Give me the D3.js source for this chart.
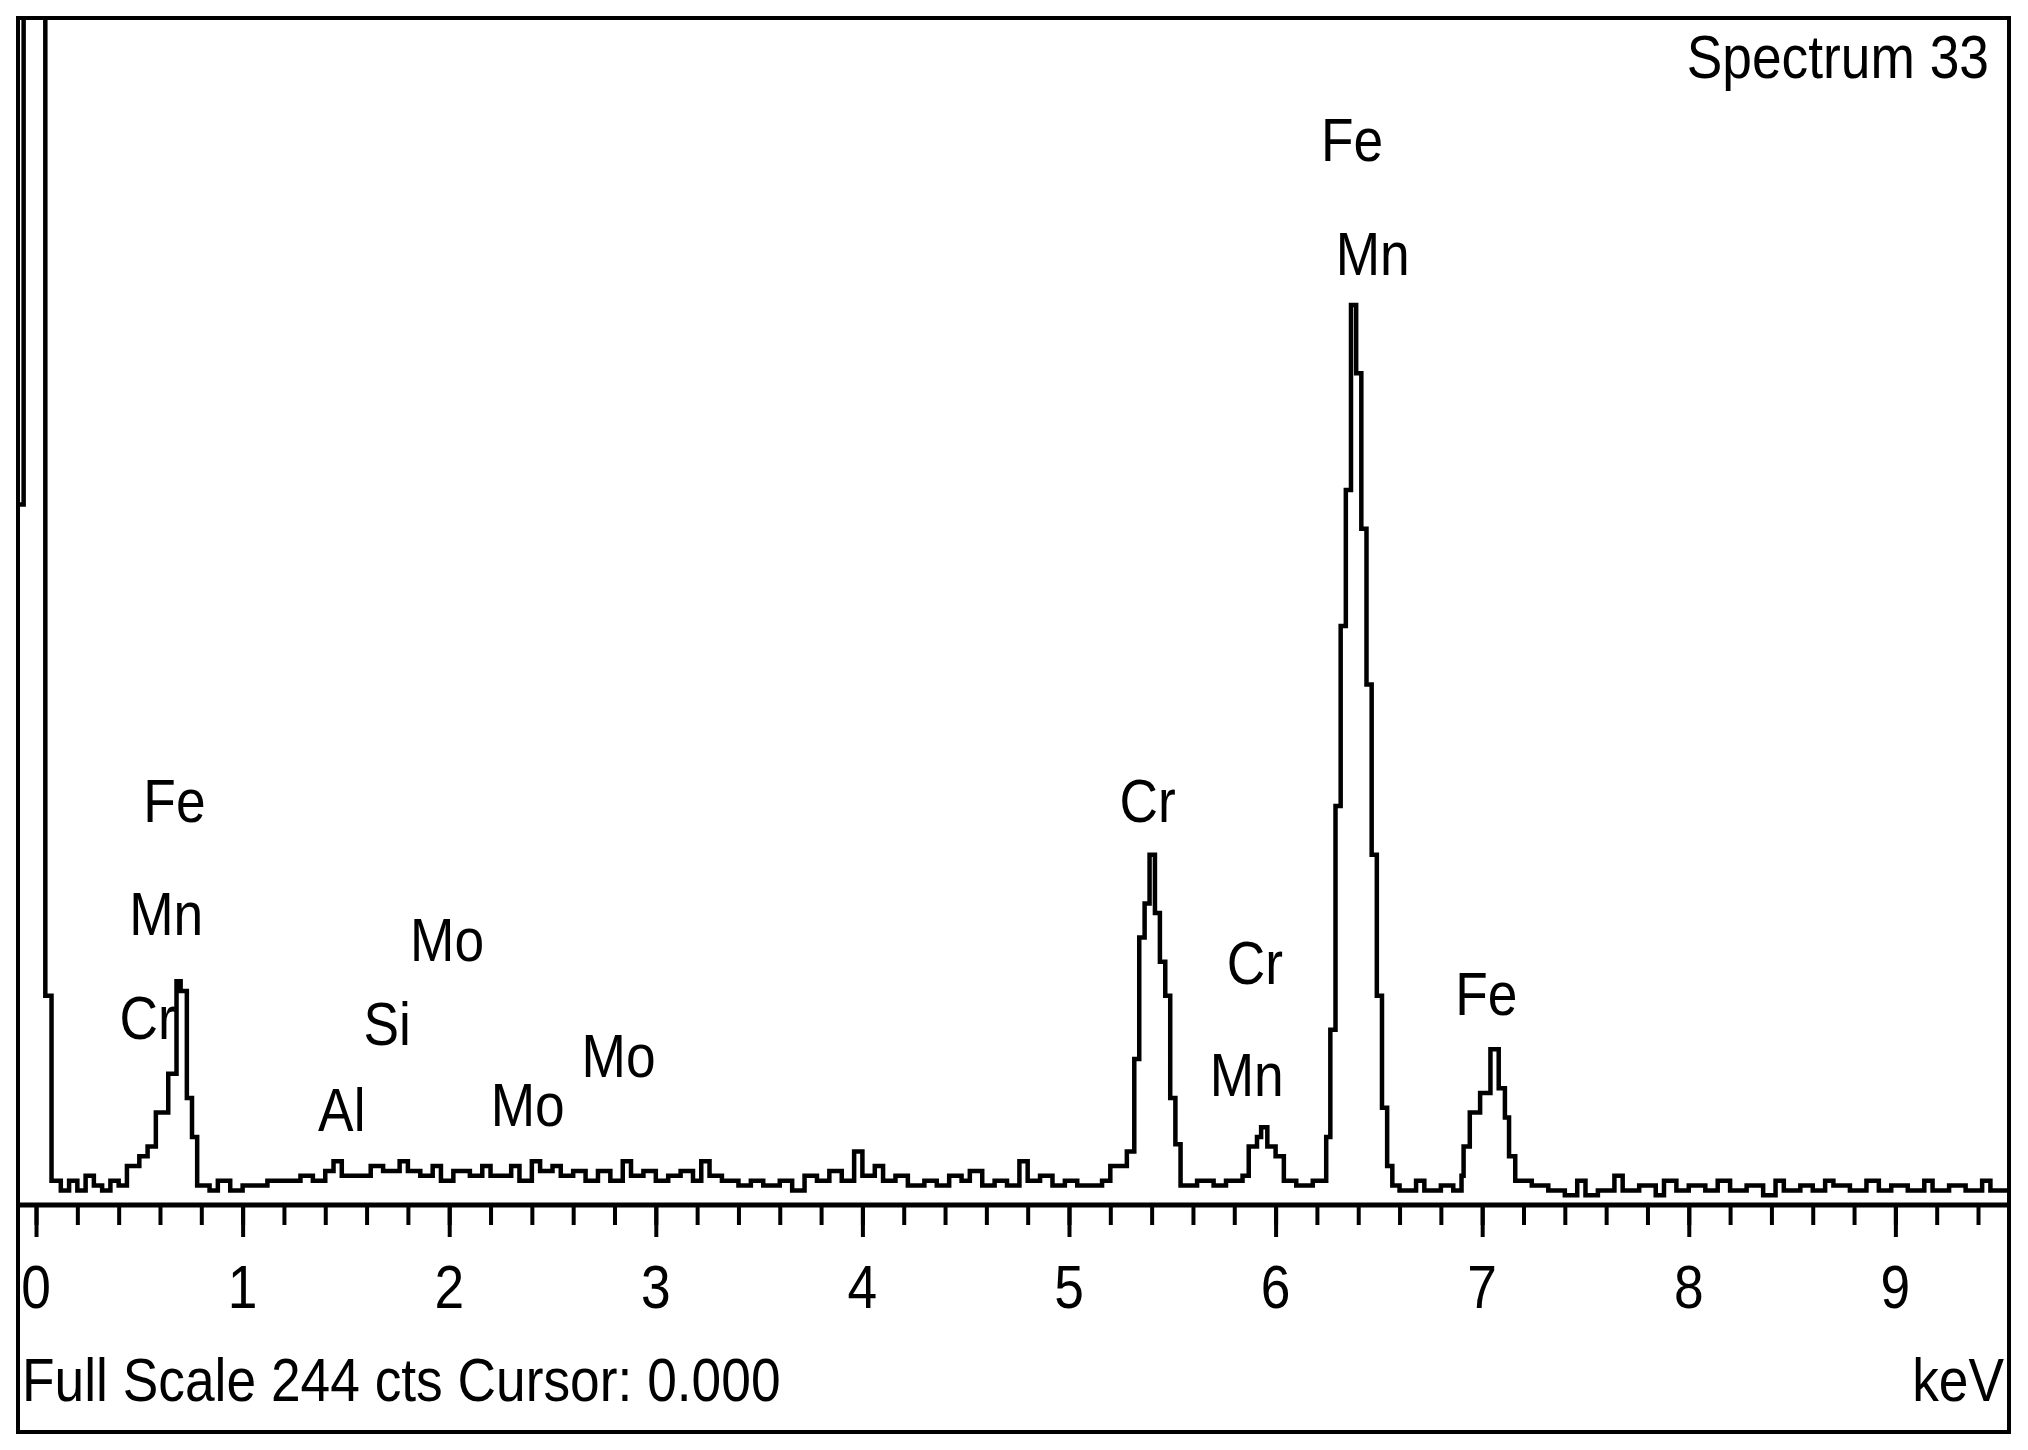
<!DOCTYPE html>
<html><head><meta charset="utf-8">
<script src="https://cdn.jsdelivr.net/npm/d3@7"></script>
<style>body{margin:0;background:#fff}text{font-family:"Liberation Sans","DejaVu Sans",sans-serif;fill:#000}</style>
</head><body><svg id="c" width="2028" height="1450"></svg>
<script>
const energies=[-0.08,-0.06,0.045,0.075,0.12,0.16,0.2,0.24,0.28,0.32,0.36,0.4,0.44,0.5,0.54,0.58,0.64,0.68,0.70,0.73,0.755,0.78,0.84,0.88,0.94,1.0,1.06,1.12,1.2,1.28,1.34,1.4,1.44,1.48,1.56,1.62,1.68,1.76,1.8,1.86,1.92,1.96,2.02,2.1,2.16,2.2,2.26,2.3,2.34,2.4,2.44,2.5,2.54,2.6,2.66,2.72,2.78,2.84,2.88,2.94,3.0,3.06,3.12,3.18,3.22,3.26,3.32,3.4,3.46,3.52,3.6,3.66,3.72,3.78,3.84,3.9,3.96,4.0,4.06,4.1,4.16,4.22,4.3,4.36,4.42,4.48,4.52,4.58,4.64,4.7,4.76,4.8,4.86,4.92,4.98,5.04,5.1,5.16,5.2,
5.28,5.316,5.34,5.366,5.39,5.416,5.44,5.466,5.49,5.515,5.54,5.62,5.7,5.76,5.84,5.87,5.91,5.93,5.96,6.0,6.04,6.1,6.18,
6.245,6.265,6.29,6.315,6.34,6.365,6.39,6.415,6.44,6.465,6.49,6.515,6.54,6.565,6.6,6.68,6.72,6.8,6.86,6.9,
6.91,6.94,6.99,7.04,7.08,7.11,7.13,7.16,7.24,7.32,7.4,7.46,7.5,7.56,7.64,7.68,7.76,7.84,7.88,7.94,8.0,8.08,8.14,8.2,8.28,8.36,8.42,8.46,8.54,8.6,8.66,8.7,8.78,8.86,8.92,8.98,9.06,9.14,9.18,9.26,9.34,9.42,9.46,9.6];
const counts=[144,400,43,5,3,5,3,6,4,3,5,4,8,10,12,19,27,46,44,22,14,4,3,5,3,4,4,5,5,6,5,7,9,6,6,8,7,9,7,6,8,5,7,6,8,6,6,8,5,9,7,8,6,7,5,7,5,9,6,7,5,6,7,5,9,6,5,4,5,4,5,3,6,5,7,5,11,6,8,5,6,4,5,4,6,5,7,4,5,4,9,5,6,4,5,4,4,5,8,
11,30,55,62,72,60,50,43,22,12.5,4,5,4,5,6,12,14,16,12,10,5,4,5,
14,36,82,119,147,185,171,139,107,72,43,20,8,4,3,5,3,4,3,6,
12,19,23,32,24,18,10,5,4,3,2,5,2,3,6,3,4,2,5,3,4,3,5,3,4,2,5,3,4,3,5,4,3,5,3,4,3,5,3,4,3,5,3,3];
const xTicks=[0,1,2,3,4,5,6,7,8,9];
const peakLabels=[["Fe",6.37],["Mn",6.47],["Cr",5.38],["Cr",5.9],["Mn",5.86],["Fe",7.02],["Fe",0.67],["Mn",0.63],["Cr",0.54],["Al",1.48],["Si",1.7],["Mo",1.99],["Mo",2.38],["Mo",2.82]];
const labelY=[112,200,623,748,835,772,623,710,791,862,795,730,858,820];
const fullScale=244;

const svg=d3.select("#c");
const L=18,R=2009,T=18,B=1432,base=1205;
const x=d3.scaleLinear().domain([-0.08,9.55]).range([L+1.5,R]);
const y=d3.scaleLinear().domain([0,fullScale]).range([base,T]);
svg.append("defs").append("clipPath").attr("id","cp").append("rect").attr("x",L).attr("y",T).attr("width",R-L).attr("height",base-T);
const pts=energies.map((e,i)=>[e,counts[i]]);
svg.append("path").datum(pts).attr("clip-path","url(#cp)")
 .attr("d",d3.line().x(d=>x(d[0])).y(d=>y(d[1])).curve(d3.curveStepAfter))
 .attr("fill","none").attr("stroke","#000").attr("stroke-width",4.5);
const ax=d3.axisBottom(x).tickValues(d3.range(0,48).map(i=>i/5)).tickSize(20).tickFormat("");
svg.append("g").attr("transform",`translate(0,${base})`).call(ax)
 .call(g=>{g.select(".domain").remove();g.selectAll("line").attr("stroke","#000").attr("stroke-width",4);});
svg.append("g").attr("transform",`translate(0,${base})`).call(d3.axisBottom(x).tickValues(xTicks).tickSize(32).tickFormat(""))
 .call(g=>{g.select(".domain").remove();g.selectAll("line").attr("stroke","#000").attr("stroke-width",4);});
svg.append("line").attr("x1",L).attr("x2",R).attr("y1",base).attr("y2",base).attr("stroke","#000").attr("stroke-width",5);
function txt(g,s,px,py,anchor){
 g.append("text").attr("transform",`translate(${px},${py}) scale(0.86,1)`).attr("text-anchor",anchor)
  .attr("dominant-baseline","middle").attr("font-size",62).text(s);
}
const tg=svg.append("g");
xTicks.forEach(d=>txt(tg,d,x(d),1292,"middle"));
peakLabels.forEach((d,i)=>txt(tg,d[0],x(d[1]),labelY[i]*1.2934,"middle"));
txt(tg,"Spectrum 33",1989,62,"end");
txt(tg,"Full Scale 244 cts Cursor: 0.000",22,1385,"start");
txt(tg,"keV",2004,1385,"end");
svg.append("rect").attr("x",L).attr("y",T).attr("width",R-L).attr("height",B-T).attr("fill","none").attr("stroke","#000").attr("stroke-width",4);
</script></body></html>
